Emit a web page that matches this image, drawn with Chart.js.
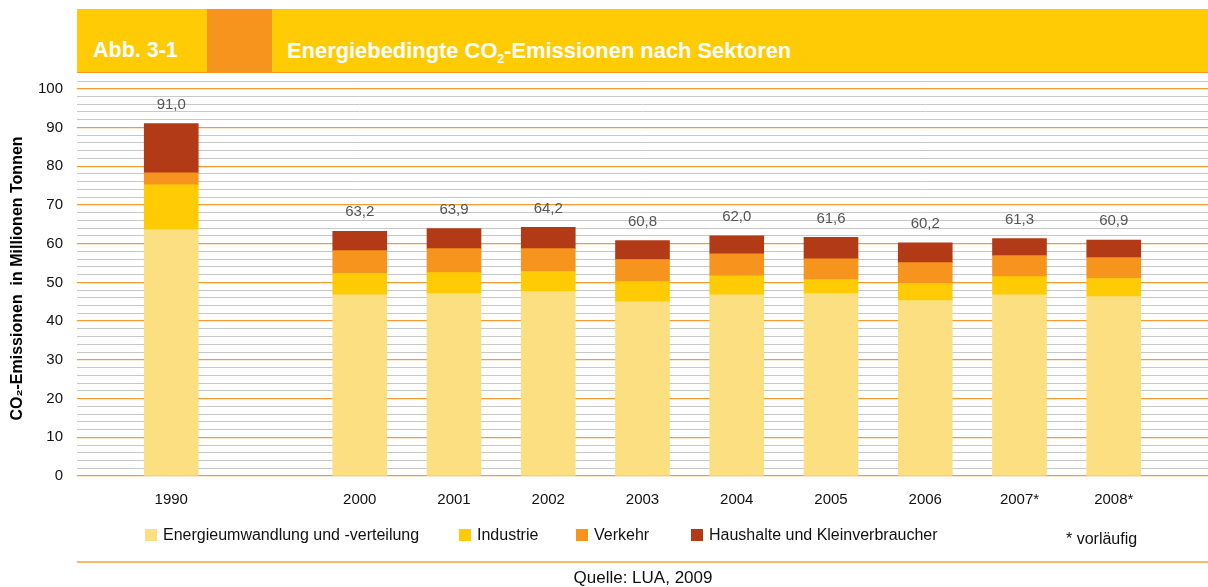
<!DOCTYPE html>
<html>
<head>
<meta charset="utf-8">
<script src="https://cdn.jsdelivr.net/npm/chart.js@4.4.1/dist/chart.umd.min.js"></script>
<style>
  body { margin: 0; background: #fff; font-family: "Liberation Sans", Arial, sans-serif; }
  #wrap { position: relative; width: 1208px; height: 587px; overflow: hidden; }
  #myChart { position: absolute; left: 0; top: 0; }
  .head { position: absolute; left: 77px; top: 9px; width: 1131px; height: 63px; background: #ffcb05; border-bottom: 1px solid #f7941d; }
  .head .box { position: absolute; left: 130px; top: 0; width: 65px; height: 64px; background: #f7941d; }
  .head .t { position: absolute; top: 29px; color: #fff; font-weight: bold; font-size: 21.5px; white-space: nowrap; }
  .head sub { font-size: 12px; vertical-align: -5px; }
  .legend { position: absolute; top: 526px; font-size: 16px; color: #111; white-space: nowrap; }
  .legend i { position: absolute; left: 0; top: 3px; width: 12px; height: 12px; }
  .legend span { position: absolute; left: 18px; top: 0; }
  .note { position: absolute; left: 1066px; top: 530px; font-size: 16px; color: #111; }
  .line { position: absolute; left: 77px; top: 561px; width: 1131px; height: 2px; background: #f9b96a; }
  .src { position: absolute; left: 0; width: 1286px; top: 568px; text-align: center; font-size: 17px; color: #111; }
</style>
</head>
<body>
<div id="wrap">
  <canvas id="myChart" width="1208" height="587"></canvas>
  <div class="head">
    <div class="box"></div>
    <div class="t" style="left:16px">Abb. 3-1</div>
    <div class="t" style="left:210px; font-size:21.9px">Energiebedingte CO<sub>2</sub>-Emissionen nach Sektoren</div>
  </div>
  <div id="legend"></div>
  <div class="note">* vorläufig</div>
  <div class="line"></div>
  <div class="src">Quelle: LUA, 2009</div>
</div>
<script>
// categories (empty ones keep the gap and the margins)
const years = ['', '1990', '', '2000', '2001', '2002', '2003', '2004', '2005', '2006', '2007*', '2008*', ''];
// values in million tonnes CO2
const energie   = [null, 63.6, null, 46.8, 47.1, 47.6, 45.0, 46.8, 47.1, 45.3, 46.8, 46.3, null];
const industrie = [null, 11.6, null,  5.5,  5.4,  5.2,  5.2,  4.9,  3.6,  4.4,  4.7,  4.7, null];
const verkehr   = [null,  3.1, null,  5.9,  6.2,  5.9,  5.7,  5.7,  5.4,  5.4,  5.4,  5.4, null];
const haushalte = [null, 12.7, null,  5.0,  5.2,  5.5,  4.9,  4.6,  5.5,  5.1,  4.4,  4.5, null];
const totals    = [null, 91.0, null, 63.2, 63.9, 64.2, 60.8, 62.0, 61.6, 60.2, 61.3, 60.9, null];
const yTicks = [0, 10, 20, 30, 40, 50, 60, 70, 80, 90, 100];
const yMinorStep = 2;
const yMax = 102;

const series = [
    { label: 'Energieumwandlung und -verteilung', data: energie, color: '#fcdf80', x: 145 },
    { label: 'Industrie', data: industrie, color: '#ffcb05', x: 459 },
    { label: 'Verkehr', data: verkehr, color: '#f7941d', x: 576 },
    { label: 'Haushalte und Kleinverbraucher', data: haushalte, color: '#b33a17', x: 691 }
];

// html legend
const legend = document.getElementById('legend');
series.forEach(s => {
    const d = document.createElement('div');
    d.className = 'legend';
    d.style.left = s.x + 'px';
    d.innerHTML = '<i style="background:' + s.color + '"></i><span>' + s.label + '</span>';
    legend.appendChild(d);
});

// totals above the bars
const totalLabels = {
    id: 'totalLabels',
    afterDatasetsDraw(chart) {
        const ctx = chart.ctx;
        const top = chart.getDatasetMeta(series.length - 1);
        ctx.save();
        ctx.font = '15px "Liberation Sans", Arial, sans-serif';
        ctx.fillStyle = '#555';
        ctx.textAlign = 'center';
        ctx.textBaseline = 'middle';
        totals.forEach((t, i) => {
            if (t === null) return;
            const bar = top.data[i];
            ctx.fillText(t.toFixed(1).replace('.', ','), bar.x, bar.y - 19);
        });
        ctx.restore();
    }
};

const ctx = document.getElementById('myChart');
const data = {
    labels: years,
    datasets: series.map(s => ({
        label: s.label,
        data: s.data,
        backgroundColor: s.color,
        borderWidth: 0,
        barThickness: 54
    }))
};

const config = {
    type: 'bar',
    data: data,
    plugins: [totalLabels],
    options: {
        responsive: false,
        animation: false,
        layout: { padding: { top: 81, right: 0, bottom: 71, left: 0 } },
        plugins: {
            legend: { display: false },
            tooltip: { enabled: false }
        },
        scales: {
            x: {
                stacked: true,
                offset: false,
                grid: { display: false, drawTicks: false },
                border: { display: false },
                ticks: {
                    autoSkip: false,
                    maxRotation: 0,
                    padding: 0,
                    color: '#111',
                    font: { family: '"Liberation Sans", Arial, sans-serif', size: 15, lineHeight: 3.2 }
                },
                afterFit: (scale) => { scale.height = 40; }
            },
            y: {
                stacked: true,
                min: 0,
                max: yMax,
                grid: {
                    drawTicks: false,
                    color: (c) => (yTicks.includes(c.tick.value) ? '#f59b35' : '#c8c8c8'),
                    lineWidth: (c) => (yTicks.includes(c.tick.value) ? 1.2 : 1)
                },
                border: { display: false },
                ticks: {
                    autoSkip: false,
                    padding: 14,
                    color: '#111',
                    font: { family: '"Liberation Sans", Arial, sans-serif', size: 15 },
                    callback: (v) => (yTicks.includes(v) ? String(v) : '')
                },
                afterBuildTicks: (scale) => {
                    const t = [];
                    for (let v = 0; v <= yMax; v += yMinorStep) t.push({ value: v });
                    scale.ticks = t;
                },
                title: {
                    display: true,
                    text: 'CO₂-Emissionen  in Millionen Tonnen',
                    color: '#000',
                    padding: { top: 8 },
                    font: { family: '"Liberation Sans", Arial, sans-serif', size: 16, weight: 'bold' }
                },
                afterFit: (scale) => { scale.width = 77; }
            }
        }
    }
};

window.myChart = new Chart(ctx, config);
</script>
</body>
</html>
